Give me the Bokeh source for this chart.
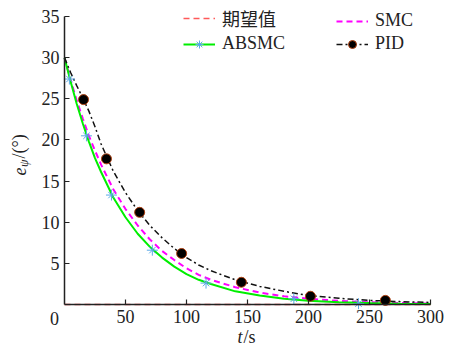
import math
from bokeh.plotting import figure
from bokeh.models import Range1d, FixedTicker, Legend, LegendItem, Label
from bokeh.embed import file_html
from bokeh.resources import INLINE

# ---- data ----
t = [0, 5, 10, 15, 20, 25, 30, 40, 50, 60, 70, 80, 90, 100, 110, 120,
     140, 160, 180, 200, 225, 250, 275, 300]
absmc = [30, 27.1, 24.4, 22.0, 19.8, 17.8, 16.1, 13.0, 10.6, 8.6, 7.0, 5.7,
         4.6, 3.7, 3.0, 2.5, 1.6, 1.1, 0.7, 0.46, 0.28, 0.17, 0.1, 0.06]
smc = [30, 27.3, 24.8, 22.6, 20.5, 18.7, 17.0, 14.0, 11.6, 9.6, 7.9, 6.5,
       5.4, 4.4, 3.6, 3.0, 2.1, 1.45, 1.0, 0.7, 0.44, 0.28, 0.18, 0.11]
pid = [30, 28.2, 26.6, 25.1, 23.5, 21.6, 19.5, 16.2, 13.6, 11.4, 9.6, 8.1,
       6.8, 5.7, 4.8, 4.1, 3.0, 2.2, 1.6, 1.1, 0.75, 0.5, 0.35, 0.25]
desired_t = [0, 300]
desired = [0, 0]
absmc_mk_t = [4, 18, 38.5, 72, 116, 188, 241]
absmc_mk = [27.4, 20.5, 13.3, 6.6, 2.6, 0.7, 0.1]
pid_mk_t = [15.6, 34.4, 61.6, 96, 145, 201.6, 263]
pid_mk = [24.9, 17.7, 11.2, 6.2, 2.7, 1.0, 0.5]
x_ticks = [50, 100, 150, 200, 250, 300]
y_ticks = [5, 10, 15, 20, 25, 30, 35]
x_lim = (0, 300)
y_lim = (0, 35)
names = ["期望值", "ABSMC", "SMC", "PID"]

FONT = "'Liberation Serif', 'Times New Roman', 'Noto Sans CJK SC', serif"
FS = "18px"
INK = "#222222"

# geometry of the canvas (pixels): plot box inside a 458x347 canvas
W, H = 458, 347
L, R, T, B = 64, 430, 16, 304
sx = (R - L) / (x_lim[1] - x_lim[0])
sy = (B - T) / (y_lim[1] - y_lim[0])

p = figure(width=W, height=H, output_backend="svg", toolbar_location=None,
           x_range=Range1d(x_lim[0] - L / sx, x_lim[1] + (W - R) / sx),
           y_range=Range1d(y_lim[0] - (H - B) / sy, y_lim[1] + T / sy),
           min_border_left=0, min_border_right=0, min_border_top=0,
           min_border_bottom=0)
if p.title is not None:
    p.title.visible = False
p.outline_line_color = None
p.grid.visible = False
p.background_fill_color = "white"
p.border_fill_color = "white"

for ax, b in ((p.xaxis[0], x_lim), (p.yaxis[0], y_lim)):
    ax.fixed_location = 0
    ax.bounds = b
    ax.axis_line_color = INK
    ax.axis_line_width = 1.5
    ax.major_tick_in = 5
    ax.major_tick_out = 0
    ax.major_tick_line_color = INK
    ax.major_tick_line_width = 1.2
    ax.minor_tick_line_color = None
    ax.major_label_text_font = FONT
    ax.major_label_text_font_size = FS
    ax.major_label_text_color = INK
p.xaxis[0].ticker = FixedTicker(ticks=x_ticks)
p.yaxis[0].ticker = FixedTicker(ticks=y_ticks)
p.xaxis[0].major_label_standoff = 5
p.yaxis[0].major_label_standoff = 5

r_des = p.line(desired_t, desired, line_color="#ff5a5a", line_width=1.5,
               line_dash="6 4")
r_smc = p.line(t, smc, line_color="#ff00ff", line_width=2, line_dash="6 4")
r_abs = p.line(t, absmc, line_color="#00ee00", line_width=2)
r_pid = p.line(t, pid, line_color="#111111", line_width=1.5,
               line_dash="6 3 2 3")
r_am1 = p.scatter(absmc_mk_t, absmc_mk, marker="cross", size=11,
                  line_color="#5aa9e6", line_width=1)
r_am2 = p.scatter(absmc_mk_t, absmc_mk, marker="x", size=9,
                  line_color="#5aa9e6", line_width=1)
r_pm = p.scatter(pid_mk_t, pid_mk, marker="circle", size=10,
                 fill_color="black", line_color="#b04010", line_width=1)

def mk_legend(items, loc):
    return Legend(items=items, location=loc, orientation="vertical",
                  padding=0, margin=0, spacing=2, glyph_width=32,
                  glyph_height=20, label_height=20, label_standoff=7,
                  label_text_font=FONT, label_text_font_size=FS,
                  label_text_color=INK, background_fill_alpha=0,
                  border_line_color=None)

lg1 = mk_legend([LegendItem(label=names[0], renderers=[r_des]),
                 LegendItem(label=names[1], renderers=[r_abs, r_am1, r_am2])],
                (183, 293))
lg2 = mk_legend([LegendItem(label=names[2], renderers=[r_smc]),
                 LegendItem(label=names[3], renderers=[r_pid, r_pm])],
                (336, 293))
p.add_layout(lg1)
p.add_layout(lg2)

def txt(s, dx, dy, size=FS, style="normal", angle=0, align="left"):
    p.add_layout(Label(x=0, y=0, x_offset=dx, y_offset=dy, text=s,
                       angle=angle, text_font=FONT, text_font_style=style,
                       text_font_size=size, text_color=INK,
                       text_align=align, text_baseline="middle"))

# origin label
txt("0", -10, -14, align="center")
# x axis title  t/s
txt("t", 173, -32, style="italic")
txt("/s", 179, -32)
# y axis title  e_psi/(°)
a = math.pi / 2
txt("e", -45.5, 129, style="italic", angle=a)
txt("ψ", -41, 137.5, size="12px", style="italic", angle=a)
txt("/(°)", -45.5, 146, angle=a)

open("out.html", "w").write(file_html(p, INLINE))
